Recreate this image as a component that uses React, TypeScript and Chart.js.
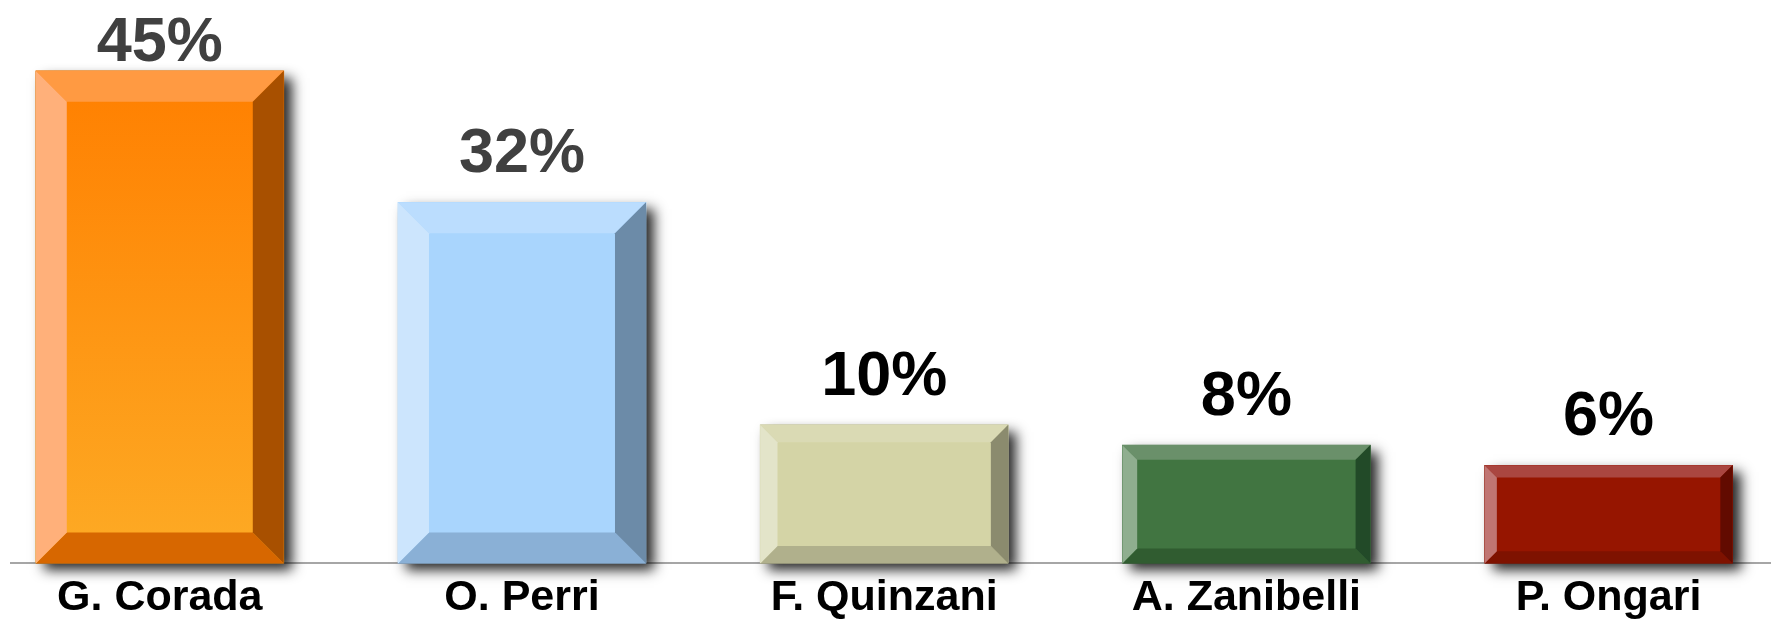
import React, { useEffect, useRef } from 'react';
import { Chart, registerables } from 'chart.js';

Chart.register(...registerables);

// ---- data ----
const CANDIDATES = ['G. Corada', 'O. Perri', 'F. Quinzani', 'A. Zanibelli', 'P. Ongari'];
const PERCENT = [45, 32, 10, 8, 6];

// ---- styling ----
const FACE_TOP = ['#FF7F00', '#A9D5FD', '#D4D4A6', '#417541', '#961500'];
const FACE_BOTTOM = ['#FDAB25', '#A9D5FD', '#D4D4A6', '#417541', '#961500'];
const TOP_BEVEL = ['#FF9A42', '#BBDDFE', '#DADAB4', '#6A906A', '#AA4640'];
const LEFT_BEVEL = ['#FFB07A', '#CCE5FD', '#E3E4C9', '#8FAE8F', '#C07572'];
const RIGHT_BEVEL = ['#A85000', '#6C8BA8', '#8B8B6E', '#224A28', '#620B00'];
const BOTTOM_BEVEL = ['#D76700', '#8AB0D6', '#B0B08C', '#305C30', '#7E1200'];
const LABEL_COLORS = ['#404040', '#404040', '#000000', '#000000', '#000000'];

const X_MIN = -0.4108;
const X_MAX = 4.4484;
const Y_MIN = -3.7;
const Y_MAX = 52;
const FONT = '"Liberation Sans", Arial, sans-serif';

const bevelPlugin = {
  id: 'bevelBars',
  beforeDatasetsDraw(chart: any) {
    const ctx = chart.ctx;
    const meta = chart.getDatasetMeta(0);
    meta.data.forEach((el: any) => {
      const { x, y, base, width } = el.getProps(['x', 'y', 'base', 'width'], true);
      ctx.save();
      ctx.shadowColor = 'rgba(0,0,0,0.85)';
      ctx.shadowBlur = 12;
      ctx.shadowOffsetX = 8;
      ctx.shadowOffsetY = 7;
      ctx.fillStyle = '#444444';
      ctx.fillRect(x - width / 2, y, width, base - y);
      ctx.restore();
    });
  },
  afterDatasetsDraw(chart: any) {
    const ctx = chart.ctx;
    const meta = chart.getDatasetMeta(0);
    meta.data.forEach((el: any, i: number) => {
      const { x, y, base, width } = el.getProps(['x', 'y', 'base', 'width'], true);
      const l = x - width / 2;
      const r = x + width / 2;
      const t = y;
      const b = base;
      const h = b - t;
      const bv = 0.125 * Math.min(width, h);
      const poly = (pts: number[][], color: string) => {
        ctx.beginPath();
        ctx.moveTo(pts[0][0], pts[0][1]);
        for (let k = 1; k < pts.length; k++) ctx.lineTo(pts[k][0], pts[k][1]);
        ctx.closePath();
        ctx.fillStyle = color;
        ctx.fill();
      };
      ctx.save();
      poly([[l, t], [r, t], [r - bv, t + bv], [l + bv, t + bv]], TOP_BEVEL[i]);
      poly([[l, b], [r, b], [r - bv, b - bv], [l + bv, b - bv]], BOTTOM_BEVEL[i]);
      poly([[l, t], [l + bv, t + bv], [l + bv, b - bv], [l, b]], LEFT_BEVEL[i]);
      poly([[r, t], [r - bv, t + bv], [r - bv, b - bv], [r, b]], RIGHT_BEVEL[i]);
      ctx.restore();

      ctx.save();
      ctx.font = `bold 63px ${FONT}`;
      ctx.textAlign = 'center';
      ctx.textBaseline = 'alphabetic';
      ctx.fillStyle = LABEL_COLORS[i];
      ctx.fillText(`${PERCENT[i]}%`, x, Math.max(t - 30, 61));
      ctx.restore();
    });
  },
};

export default function App() {
  const canvasRef = useRef<HTMLCanvasElement | null>(null);

  useEffect(() => {
    if (!canvasRef.current) return;
    const chart = new Chart(canvasRef.current, {
      type: 'bar',
      data: {
        datasets: [
          {
            label: 'Voti',
            data: PERCENT.map((v, i) => ({ x: i, y: v })),
            base: Y_MIN,
            barThickness: 248,
            borderWidth: 0,
            backgroundColor: (c: any) => {
              const chart = c.chart;
              const i = c.dataIndex;
              if (i === undefined || !chart.chartArea || !chart.scales.y) return FACE_TOP[i ?? 0];
              const ys = chart.scales.y;
              const top = ys.getPixelForValue(PERCENT[i]);
              const bot = ys.getPixelForValue(Y_MIN);
              const g = chart.ctx.createLinearGradient(0, top, 0, bot);
              g.addColorStop(0, FACE_TOP[i]);
              g.addColorStop(1, FACE_BOTTOM[i]);
              return g;
            },
          } as any,
        ],
      },
      options: {
        responsive: false,
        animation: false,
        layout: { padding: { left: 11, right: 0, top: 0, bottom: -4 } },
        plugins: {
          legend: { display: false },
          tooltip: { enabled: false },
          title: { display: false },
        },
        scales: {
          x: {
            type: 'linear',
            offset: false,
            min: X_MIN,
            max: X_MAX,
            grid: { display: false, drawTicks: false, offset: false },
            border: { display: true, color: '#A6A6A6', width: 2 },
            afterBuildTicks: (axis: any) => {
              axis.ticks = CANDIDATES.map((_, i) => ({ value: i }));
            },
            ticks: {
              autoSkip: false,
              maxRotation: 0,
              padding: 9,
              color: '#000000',
              font: { family: FONT, weight: 'bold', size: 43 },
              callback: (v: any) => CANDIDATES[Math.round(Number(v))] ?? '',
            },
          },
          y: {
            display: false,
            min: Y_MIN,
            max: Y_MAX,
          },
        },
      } as any,
      plugins: [bevelPlugin],
    });
    return () => chart.destroy();
  }, []);

  return (
    <div style={{ position: 'absolute', left: 0, top: 0, width: 1771, height: 629, background: '#ffffff' }}>
      <canvas ref={canvasRef} width={1771} height={629} />
    </div>
  );
}
